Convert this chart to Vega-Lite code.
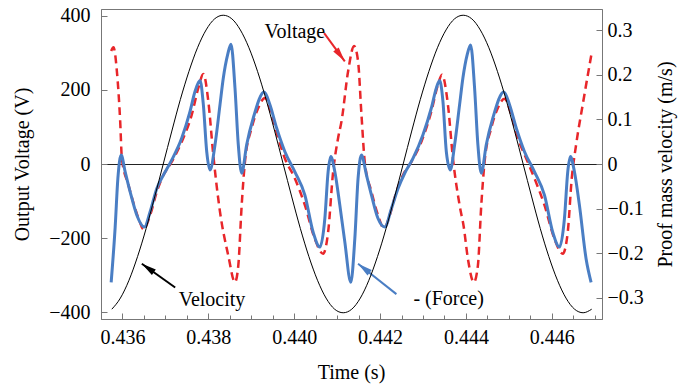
{
  "$schema": "https://vega.github.io/schema/vega-lite/v6.json",
  "width": 501,
  "height": 310,
  "autosize": "none",
  "padding": {"left": 101, "top": 9, "right": 86, "bottom": 67},
  "background": "white",
  "config": {
    "font": "Liberation Serif",
    "view": {"stroke": "#777", "strokeWidth": 1},
    "axis": {
      "labelFont": "Liberation Serif", "titleFont": "Liberation Serif",
      "labelFontSize": 20, "titleFontSize": 20, "labelColor": "#000", "titleColor": "#000",
      "titleFontWeight": "normal", "domainColor": "#777", "tickColor": "#777", "grid": false
    }
  },
  "datasets": {
    "sig": [
      {"s":"V","t":0.435737,"v":305},{"s":"V","t":0.435791,"v":315},{"s":"V","t":0.43587,"v":250},{"s":"V","t":0.435947,"v":115},{"s":"V","t":0.435986,"v":15},{"s":"V","t":0.43614,"v":-57},{"s":"V","t":0.436295,"v":-120},{"s":"V","t":0.4364,"v":-155},{"s":"V","t":0.436488,"v":-176},{"s":"V","t":0.436644,"v":-138},{"s":"V","t":0.4368,"v":-75},{"s":"V","t":0.436916,"v":-39},{"s":"V","t":0.437149,"v":6},{"s":"V","t":0.437381,"v":60},{"s":"V","t":0.437614,"v":133},{"s":"V","t":0.437767,"v":205},{"s":"V","t":0.437884,"v":243},{"s":"V","t":0.438,"v":169},{"s":"V","t":0.438116,"v":24},{"s":"V","t":0.438272,"v":-129},{"s":"V","t":0.438465,"v":-247},{"s":"V","t":0.438621,"v":-319},{"s":"V","t":0.438698,"v":-274},{"s":"V","t":0.438777,"v":-111},{"s":"V","t":0.438853,"v":6},{"s":"V","t":0.439009,"v":97},{"s":"V","t":0.439163,"v":151},{"s":"V","t":0.439319,"v":178},{"s":"V","t":0.439474,"v":133},{"s":"V","t":0.439628,"v":70},{"s":"V","t":0.439784,"v":15},{"s":"V","t":0.440016,"v":-39},{"s":"V","t":0.440249,"v":-111},{"s":"V","t":0.440481,"v":-202},{"s":"V","t":0.440674,"v":-242},{"s":"V","t":0.44079,"v":-184},{"s":"V","t":0.440907,"v":-21},{"s":"V","t":0.441023,"v":70},{"s":"V","t":0.441102,"v":115},{"s":"V","t":0.441256,"v":250},{"s":"V","t":0.441395,"v":318},{"s":"V","t":0.441488,"v":277},{"s":"V","t":0.441567,"v":133},{"s":"V","t":0.441644,"v":6},{"s":"V","t":0.4418,"v":-75},{"s":"V","t":0.441953,"v":-138},{"s":"V","t":0.442093,"v":-174},{"s":"V","t":0.442226,"v":-138},{"s":"V","t":0.442381,"v":-75},{"s":"V","t":0.442535,"v":-30},{"s":"V","t":0.44273,"v":6},{"s":"V","t":0.442963,"v":60},{"s":"V","t":0.443195,"v":142},{"s":"V","t":0.443349,"v":214},{"s":"V","t":0.443442,"v":241},{"s":"V","t":0.443581,"v":160},{"s":"V","t":0.443698,"v":15},{"s":"V","t":0.443853,"v":-111},{"s":"V","t":0.44395,"v":-170},{"s":"V","t":0.444047,"v":-256},{"s":"V","t":0.444186,"v":-319},{"s":"V","t":0.444279,"v":-274},{"s":"V","t":0.444358,"v":-111},{"s":"V","t":0.444435,"v":6},{"s":"V","t":0.44459,"v":97},{"s":"V","t":0.444744,"v":151},{"s":"V","t":0.4449,"v":176},{"s":"V","t":0.445056,"v":133},{"s":"V","t":0.445209,"v":70},{"s":"V","t":0.445405,"v":15},{"s":"V","t":0.445598,"v":-39},{"s":"V","t":0.44583,"v":-111},{"s":"V","t":0.446063,"v":-202},{"s":"V","t":0.446256,"v":-242},{"s":"V","t":0.446372,"v":-184},{"s":"V","t":0.446465,"v":-39},{"s":"V","t":0.446567,"v":52},{"s":"V","t":0.446721,"v":160},{"s":"V","t":0.44693,"v":300},
      {"s":"F","t":0.435737,"v":-319},{"s":"F","t":0.43583,"v":-170},{"s":"F","t":0.435893,"v":-39},{"s":"F","t":0.43597,"v":24},{"s":"F","t":0.436063,"v":-21},{"s":"F","t":0.436179,"v":-75},{"s":"F","t":0.436335,"v":-138},{"s":"F","t":0.436512,"v":-170},{"s":"F","t":0.436644,"v":-129},{"s":"F","t":0.4368,"v":-66},{"s":"F","t":0.436953,"v":-30},{"s":"F","t":0.437149,"v":11},{"s":"F","t":0.437381,"v":70},{"s":"F","t":0.437574,"v":142},{"s":"F","t":0.437691,"v":196},{"s":"F","t":0.437807,"v":225},{"s":"F","t":0.437884,"v":160},{"s":"F","t":0.437963,"v":33},{"s":"F","t":0.43804,"v":-16},{"s":"F","t":0.438156,"v":52},{"s":"F","t":0.438272,"v":160},{"s":"F","t":0.438349,"v":232},{"s":"F","t":0.43845,"v":295},{"s":"F","t":0.438528,"v":323},{"s":"F","t":0.438621,"v":205},{"s":"F","t":0.438698,"v":52},{"s":"F","t":0.438777,"v":-25},{"s":"F","t":0.438893,"v":52},{"s":"F","t":0.439047,"v":124},{"s":"F","t":0.439302,"v":194},{"s":"F","t":0.439435,"v":160},{"s":"F","t":0.439591,"v":97},{"s":"F","t":0.439784,"v":33},{"s":"F","t":0.440016,"v":-21},{"s":"F","t":0.440249,"v":-84},{"s":"F","t":0.440442,"v":-184},{"s":"F","t":0.440598,"v":-224},{"s":"F","t":0.440714,"v":-147},{"s":"F","t":0.44079,"v":-21},{"s":"F","t":0.440853,"v":20},{"s":"F","t":0.440947,"v":-21},{"s":"F","t":0.441063,"v":-111},{"s":"F","t":0.441179,"v":-210},{"s":"F","t":0.441319,"v":-319},{"s":"F","t":0.441412,"v":-202},{"s":"F","t":0.441488,"v":-39},{"s":"F","t":0.441567,"v":24},{"s":"F","t":0.441684,"v":-30},{"s":"F","t":0.4418,"v":-84},{"s":"F","t":0.441953,"v":-147},{"s":"F","t":0.442109,"v":-170},{"s":"F","t":0.442265,"v":-120},{"s":"F","t":0.442419,"v":-66},{"s":"F","t":0.442574,"v":-25},{"s":"F","t":0.442767,"v":15},{"s":"F","t":0.443,"v":79},{"s":"F","t":0.443195,"v":151},{"s":"F","t":0.443312,"v":205},{"s":"F","t":0.443388,"v":225},{"s":"F","t":0.443465,"v":169},{"s":"F","t":0.443544,"v":33},{"s":"F","t":0.443637,"v":-16},{"s":"F","t":0.443737,"v":52},{"s":"F","t":0.443853,"v":160},{"s":"F","t":0.44393,"v":232},{"s":"F","t":0.44403,"v":295},{"s":"F","t":0.44411,"v":321},{"s":"F","t":0.444202,"v":205},{"s":"F","t":0.444279,"v":52},{"s":"F","t":0.444358,"v":-25},{"s":"F","t":0.444474,"v":52},{"s":"F","t":0.444628,"v":124},{"s":"F","t":0.444884,"v":194},{"s":"F","t":0.445016,"v":160},{"s":"F","t":0.445172,"v":97},{"s":"F","t":0.445365,"v":33},{"s":"F","t":0.445598,"v":-21},{"s":"F","t":0.44583,"v":-84},{"s":"F","t":0.446023,"v":-184},{"s":"F","t":0.446179,"v":-224},{"s":"F","t":0.446295,"v":-147},{"s":"F","t":0.446372,"v":-21},{"s":"F","t":0.446435,"v":20},{"s":"F","t":0.446528,"v":-21},{"s":"F","t":0.446644,"v":-111},{"s":"F","t":0.4468,"v":-256},{"s":"F","t":0.446916,"v":-319}
    ],
    "vel": [
      {"t":0.435752,"w":-0.326},{"t":0.435952,"w":-0.301},{"t":0.436152,"w":-0.261},{"t":0.436351,"w":-0.208},{"t":0.436551,"w":-0.145},{"t":0.43675,"w":-0.074},{"t":0.43695,"w":0},{"t":0.43715,"w":0.074},{"t":0.437349,"w":0.145},{"t":0.437549,"w":0.208},{"t":0.437748,"w":0.261},{"t":0.437948,"w":0.301},{"t":0.438148,"w":0.326},{"t":0.438347,"w":0.334},{"t":0.438547,"w":0.326},{"t":0.438746,"w":0.301},{"t":0.438946,"w":0.261},{"t":0.439146,"w":0.208},{"t":0.439345,"w":0.145},{"t":0.439545,"w":0.074},{"t":0.439744,"w":0},{"t":0.439944,"w":-0.074},{"t":0.440144,"w":-0.145},{"t":0.440343,"w":-0.208},{"t":0.440543,"w":-0.261},{"t":0.440742,"w":-0.301},{"t":0.440942,"w":-0.326},{"t":0.441142,"w":-0.334},{"t":0.441341,"w":-0.326},{"t":0.441541,"w":-0.301},{"t":0.44174,"w":-0.261},{"t":0.44194,"w":-0.208},{"t":0.44214,"w":-0.145},{"t":0.442339,"w":-0.074},{"t":0.442539,"w":0},{"t":0.442738,"w":0.074},{"t":0.442938,"w":0.145},{"t":0.443138,"w":0.208},{"t":0.443337,"w":0.261},{"t":0.443537,"w":0.301},{"t":0.443736,"w":0.326},{"t":0.443936,"w":0.334},{"t":0.444136,"w":0.326},{"t":0.444335,"w":0.301},{"t":0.444535,"w":0.261},{"t":0.444734,"w":0.208},{"t":0.444934,"w":0.145},{"t":0.445134,"w":0.074},{"t":0.445333,"w":0},{"t":0.445533,"w":-0.074},{"t":0.445732,"w":-0.145},{"t":0.445932,"w":-0.208},{"t":0.446132,"w":-0.261},{"t":0.446331,"w":-0.301},{"t":0.446531,"w":-0.326},{"t":0.44673,"w":-0.334},{"t":0.44693,"w":-0.326}
    ],
    "arrows": [
      {"s":"V","t":0.440698,"v":353,"t2":0.441179,"v2":277},
      {"s":"K","t":0.437228,"v":-333,"t2":0.436451,"v2":-269},
      {"s":"F","t":0.442381,"v":-351,"t2":0.441488,"v2":-269}
    ],
    "heads": [
      {"s":"V","t":0.441179,"v":277},
      {"s":"K","t":0.436451,"v":-269},
      {"s":"F","t":0.441488,"v":-269}
    ],
    "labels": [
      {"label":"Voltage","t":0.440016,"v":355},
      {"label":"Velocity","t":0.438086,"v":-366},
      {"label":"- (Force)","t":0.443598,"v":-363}
    ]
  },
  "layer": [
    {
      "encoding": {
        "x": {"field": "t", "type": "quantitative", "scale": {"domain": [0.4355, 0.44717], "nice": false, "zero": false},
          "axis": {"orient": "bottom", "values": [0.436, 0.438, 0.44, 0.442, 0.444, 0.446], "format": ".3f", "tickSize": -6, "labelPadding": 14, "title": "Time (s)", "titleX": 250, "titleY": 53, "titleBaseline": "middle"}},
        "y": {"field": "v", "type": "quantitative", "scale": {"domain": [-418, 418], "nice": false},
          "axis": {"orient": "left", "values": [-400, -200, 0, 200, 400], "tickSize": -6, "labelPadding": 17, "title": "Output Voltage (V)", "titleAngle": -90, "titleX": -79, "titleY": 155, "titleAlign": "center", "titleBaseline": "middle",
            "grid": true, "gridColor": "#222", "gridWidth": 1, "gridOpacity": {"condition": {"test": "datum.value === 0", "value": 1}, "value": 0}}}
      },
      "layer": [
        {
          "data": {"name": "sig"},
          "transform": [{"filter": "datum.s == 'V'"}],
          "mark": {"type": "line", "color": "#e8262a", "strokeWidth": 2.5, "strokeDash": [8, 5], "interpolate": "monotone"}
        },
        {
          "data": {"name": "sig"},
          "transform": [{"filter": "datum.s == 'F'"}],
          "mark": {"type": "line", "color": "#4a7ec4", "strokeWidth": 3, "interpolate": "monotone"}
        },
        {
          "data": {"name": "arrows"},
          "mark": {"type": "rule", "strokeWidth": 2},
          "encoding": {
            "x2": {"field": "t2"},
            "y2": {"field": "v2"},
            "color": {"field": "s", "type": "nominal", "scale": {"domain": ["V", "K", "F"], "range": ["#e8262a", "#000000", "#4a7ec4"]}, "legend": null}
          }
        },
        {
          "data": {"name": "heads"},
          "transform": [{"filter": "datum.s == 'V'"}],
          "mark": {"type": "point", "shape": "M0,0L0.65,2.8L-0.65,2.8Z", "size": 110, "filled": true, "opacity": 1, "color": "#e8262a", "angle": 143}
        },
        {
          "data": {"name": "heads"},
          "transform": [{"filter": "datum.s == 'K'"}],
          "mark": {"type": "point", "shape": "M0,0L0.65,2.8L-0.65,2.8Z", "size": 110, "filled": true, "opacity": 1, "color": "#000000", "angle": -55}
        },
        {
          "data": {"name": "heads"},
          "transform": [{"filter": "datum.s == 'F'"}],
          "mark": {"type": "point", "shape": "M0,0L0.65,2.8L-0.65,2.8Z", "size": 110, "filled": true, "opacity": 1, "color": "#4a7ec4", "angle": -52}
        },
        {
          "data": {"name": "labels"},
          "mark": {"type": "text", "font": "Liberation Serif", "fontSize": 20, "color": "#000", "align": "center", "baseline": "middle"},
          "encoding": {"text": {"field": "label"}}
        }
      ]
    },
    {
      "data": {"name": "vel"},
      "mark": {"type": "line", "color": "#000", "strokeWidth": 1, "interpolate": "monotone"},
      "encoding": {
        "x": {"field": "t", "type": "quantitative", "scale": {"domain": [0.4355, 0.44717], "nice": false, "zero": false},
          "axis": {"orient": "bottom", "values": [0.4365, 0.437, 0.4375, 0.4385, 0.439, 0.4395, 0.4405, 0.441, 0.4415, 0.4425, 0.443, 0.4435, 0.4445, 0.445, 0.4455, 0.4465, 0.447], "labels": false, "domain": false, "tickSize": -4, "title": null}},
        "y": {"field": "w", "type": "quantitative", "scale": {"domain": [-0.348, 0.348], "nice": false, "zero": false},
          "axis": {"orient": "right", "values": [-0.3, -0.2, -0.1, 0, 0.1, 0.2, 0.3], "labelExpr": "datum.value == 0 ? '0' : format(datum.value, '.1f')", "tickSize": -6, "labelPadding": 11, "title": "Proof mass velocity (m/s)", "titleAngle": -90, "titleX": 63, "titleY": 155, "titleAlign": "center", "titleBaseline": "middle"}}
      }
    }
  ],
  "resolve": {"scale": {"y": "independent"}, "axis": {"x": "independent"}}
}
